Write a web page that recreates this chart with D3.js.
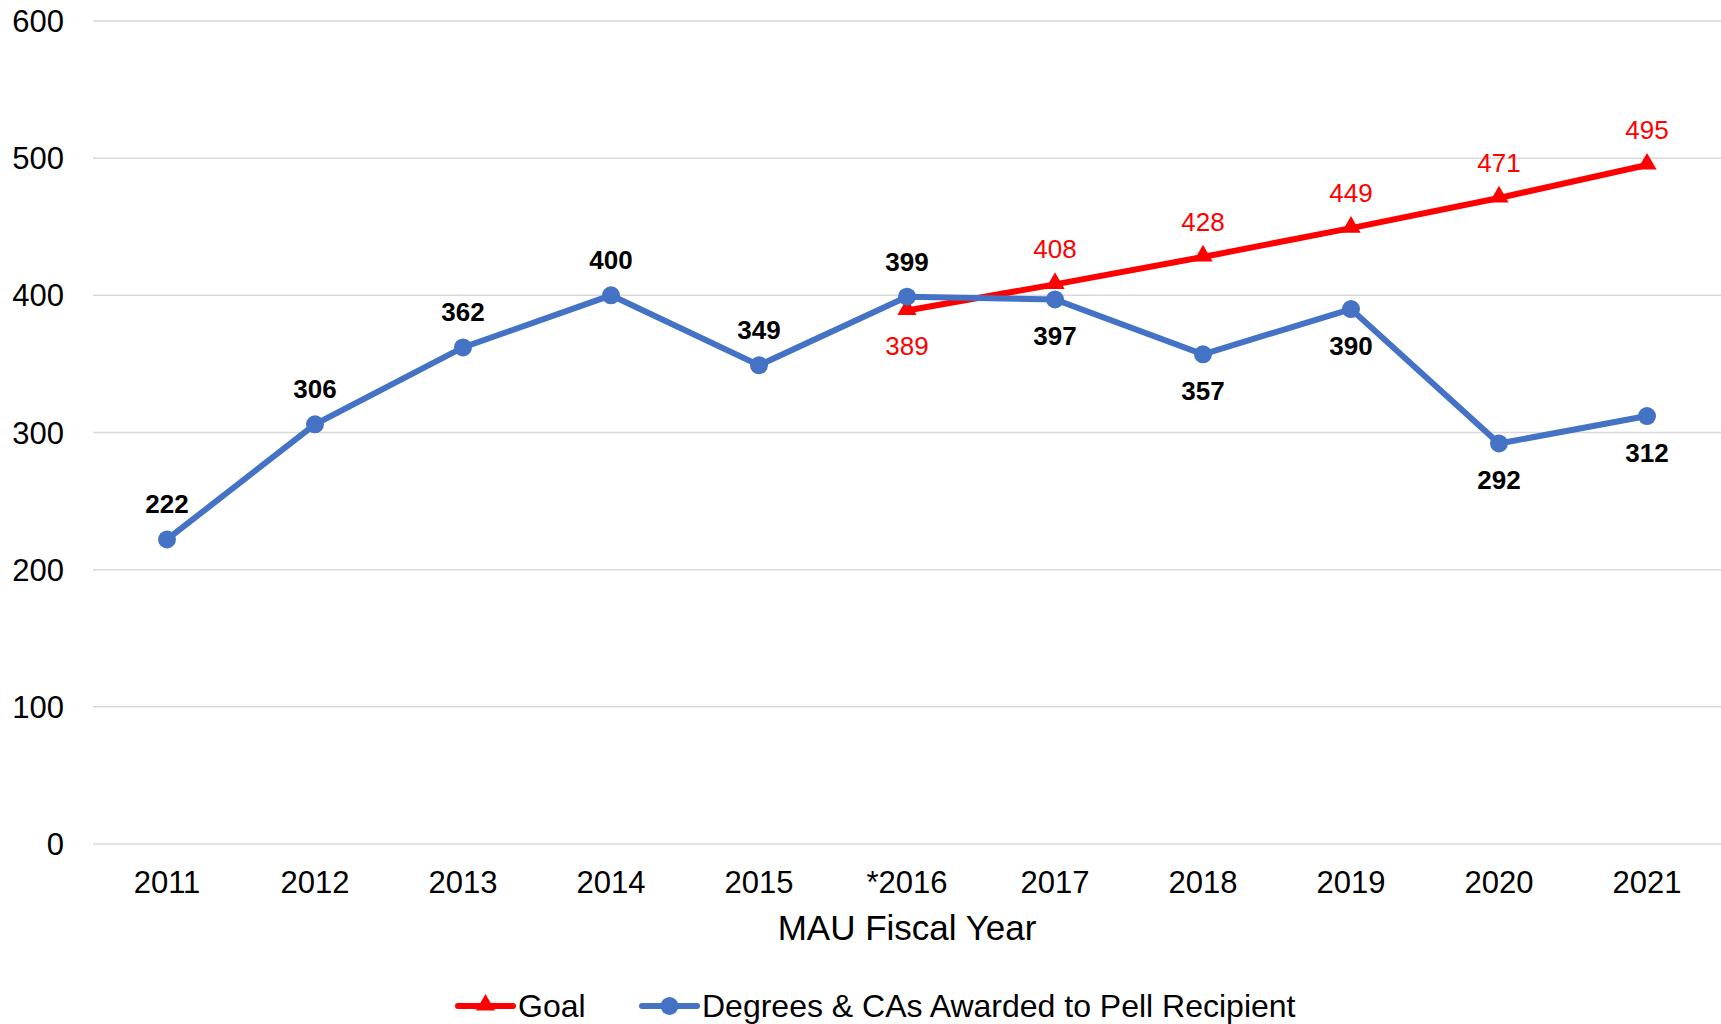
<!DOCTYPE html>
<html>
<head>
<meta charset="utf-8">
<script src="https://cdn.jsdelivr.net/npm/d3@7"></script>
<style>
  html, body { margin: 0; padding: 0; background: #fff; }
  svg text { font-family: Arial, "Liberation Sans", sans-serif; }
</style>
</head>
<body>
<svg id="chart" width="1721" height="1024"></svg>
<script>
// chart values
var years = ["2011", "2012", "2013", "2014", "2015", "*2016", "2017", "2018", "2019", "2020", "2021"];
var pellValues = [222, 306, 362, 400, 349, 399, 397, 357, 390, 292, 312];
var goalYears = ["*2016", "2017", "2018", "2019", "2020", "2021"];
var goalValues = [389, 408, 428, 449, 471, 495];
var yTicks = [0, 100, 200, 300, 400, 500, 600];
// which labels sit under the point
var pellBelow = [false, false, false, false, false, false, true, true, true, true, true];
var goalBelow = [true, false, false, false, false, false];

var BLUE = "#4472C4", RED = "#FF0000";

var svg = d3.select("#chart");
var plotLeft = 93, plotRight = 1721, plotTop = 21, plotBottom = 844;

var x = d3.scaleBand().domain(years).range([plotLeft, plotRight]);
var y = d3.scaleLinear().domain([0, 600]).range([plotBottom, plotTop]);
var cx = function (d) { return x(d) + x.bandwidth() / 2; };

/* gridlines */
svg.append("g").selectAll("line").data(yTicks).join("line")
    .attr("x1", plotLeft).attr("x2", plotRight)
    .attr("y1", function (d) { return y(d); }).attr("y2", function (d) { return y(d); })
    .attr("stroke", "#D9D9D9").attr("stroke-width", 1.5);

/* y axis labels */
svg.append("g").selectAll("text").data(yTicks).join("text")
    .attr("x", 64).attr("y", function (d) { return y(d); })
    .attr("dy", "0.36em").attr("text-anchor", "end")
    .attr("font-size", 31).attr("fill", "#000")
    .text(function (d) { return d; });

/* x axis labels */
svg.append("g").selectAll("text").data(years).join("text")
    .attr("x", cx).attr("y", 893)
    .attr("text-anchor", "middle").attr("font-size", 31).attr("fill", "#000")
    .text(function (d) { return d; });

svg.append("text").attr("x", (plotLeft + plotRight) / 2).attr("y", 940)
    .attr("text-anchor", "middle").attr("font-size", 35).attr("fill", "#000")
    .text("MAU Fiscal Year");

var tri = d3.symbol().type(d3.symbolTriangle).size(160);

/* goal series */
var goal = goalYears.map(function (d, i) { return { k: d, v: goalValues[i], below: goalBelow[i] }; });
svg.append("path").datum(goal)
    .attr("fill", "none").attr("stroke", RED).attr("stroke-width", 6).attr("stroke-linecap", "round")
    .attr("d", d3.line().x(function (d) { return cx(d.k); }).y(function (d) { return y(d.v); }));
svg.append("g").selectAll("path").data(goal).join("path")
    .attr("d", tri).attr("fill", RED)
    .attr("transform", function (d) { return "translate(" + cx(d.k) + "," + (y(d.v) - 1) + ")"; });

/* pell series */
var pell = years.map(function (d, i) { return { k: d, v: pellValues[i], below: pellBelow[i] }; });
svg.append("path").datum(pell)
    .attr("fill", "none").attr("stroke", BLUE).attr("stroke-width", 6).attr("stroke-linecap", "round")
    .attr("d", d3.line().x(function (d) { return cx(d.k); }).y(function (d) { return y(d.v); }));
svg.append("g").selectAll("circle").data(pell).join("circle")
    .attr("cx", function (d) { return cx(d.k); }).attr("cy", function (d) { return y(d.v); })
    .attr("r", 9).attr("fill", BLUE);

/* data labels */
svg.append("g").selectAll("text").data(goal).join("text")
    .attr("x", function (d) { return cx(d.k); })
    .attr("y", function (d) { return d.below ? y(d.v) + 45 : y(d.v) - 26; })
    .attr("text-anchor", "middle").attr("font-size", 26).attr("fill", RED)
    .text(function (d) { return d.v; });
svg.append("g").selectAll("text").data(pell).join("text")
    .attr("x", function (d) { return cx(d.k); })
    .attr("y", function (d) { return d.below ? y(d.v) + 46 : y(d.v) - 26; })
    .attr("text-anchor", "middle").attr("font-size", 26).attr("font-weight", "bold").attr("fill", "#000")
    .text(function (d) { return d.v; });

/* legend */
var legend = [
    { name: "Goal", color: RED, shape: "tri", x: 458 },
    { name: "Degrees & CAs Awarded to Pell Recipient", color: BLUE, shape: "circle", x: 642 }
];
var lg = svg.append("g").selectAll("g").data(legend).join("g")
    .attr("transform", function (d) { return "translate(" + d.x + ",1006)"; });
lg.append("line").attr("x1", 0).attr("x2", 55).attr("y1", 0).attr("y2", 0)
    .attr("stroke", function (d) { return d.color; }).attr("stroke-width", 6).attr("stroke-linecap", "round");
lg.filter(function (d) { return d.shape === "tri"; }).append("path")
    .attr("d", tri).attr("fill", RED).attr("transform", "translate(27.5,-1)");
lg.filter(function (d) { return d.shape === "circle"; }).append("circle")
    .attr("cx", 27.5).attr("cy", 0).attr("r", 9).attr("fill", BLUE);
lg.append("text").attr("x", 60).attr("y", 11)
    .attr("font-size", 32).attr("fill", "#000")
    .text(function (d) { return d.name; });
</script>
</body>
</html>
